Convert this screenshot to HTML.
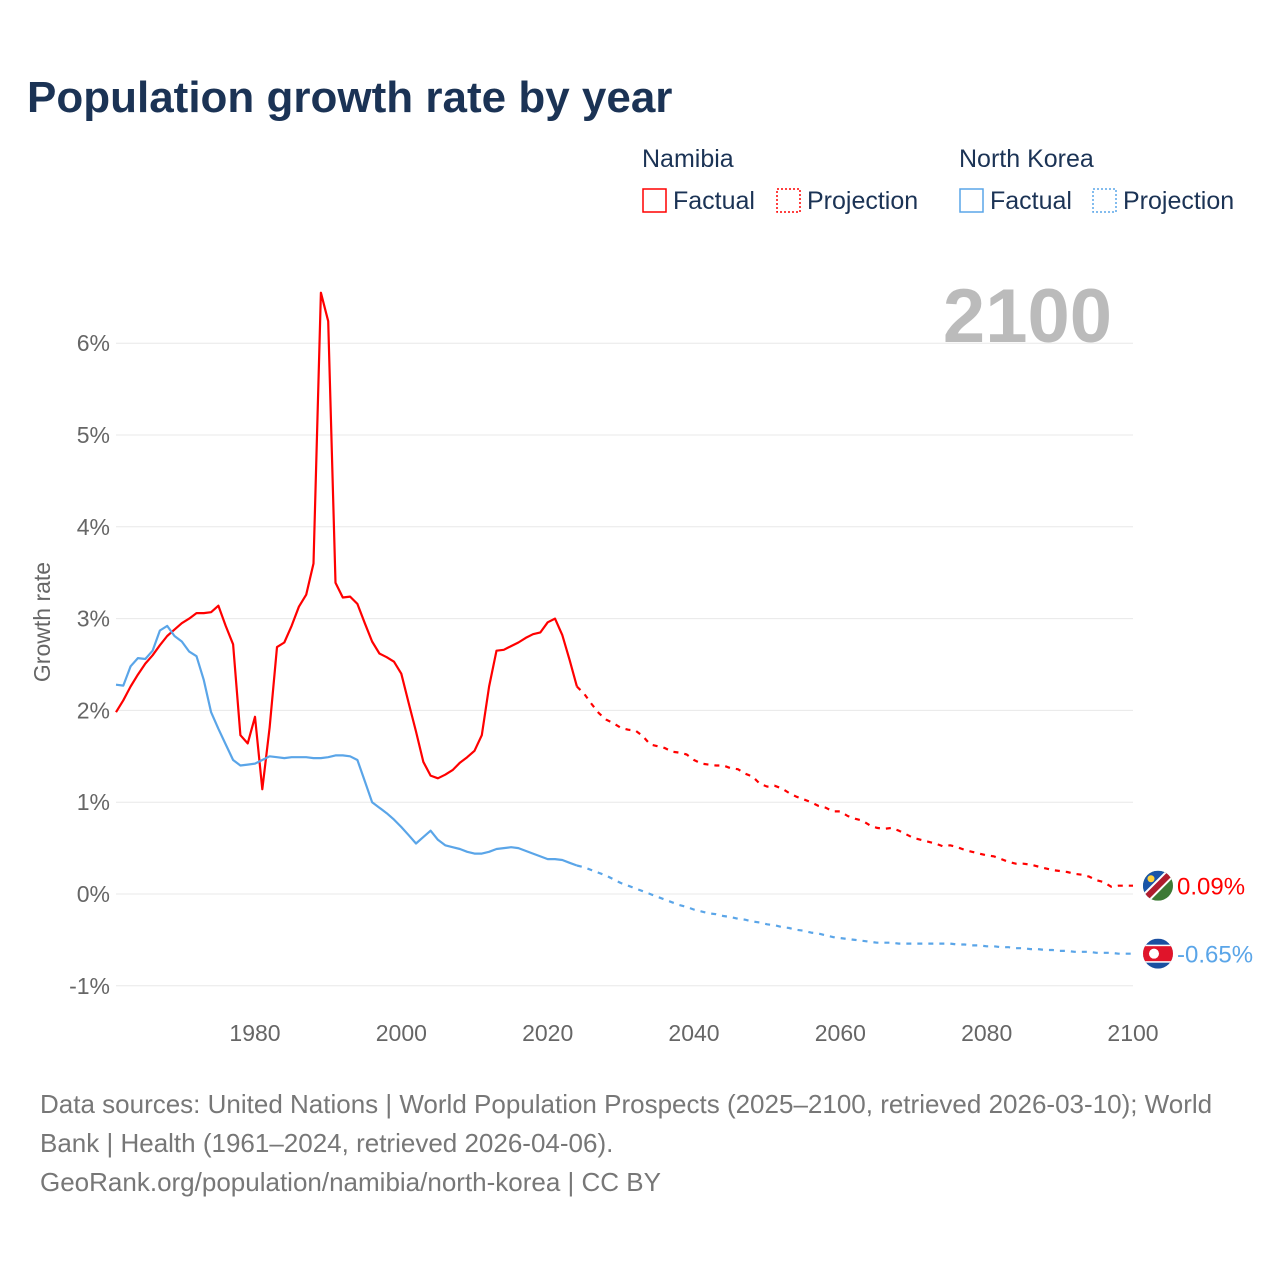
<!DOCTYPE html>
<html><head><meta charset="utf-8">
<style>
body{margin:0;background:#fff;font-family:"Liberation Sans",sans-serif;}
#wrap{position:relative;width:1280px;height:1280px;overflow:hidden;}
</style></head>
<body>
<div id="wrap">
<svg id="chart" width="1280" height="1280" xmlns="http://www.w3.org/2000/svg">
<text x="27" y="112" font-size="44" font-weight="bold" fill="#1b3355" font-family="Liberation Sans, sans-serif">Population growth rate by year</text>
<g font-size="25" fill="#1b3355">
<text x="642" y="167">Namibia</text>
<rect x="643" y="189" width="23" height="23" fill="none" stroke="#ff0000" stroke-width="1.5"/>
<text x="673" y="209">Factual</text>
<rect x="777" y="189" width="23" height="23" fill="none" stroke="#ff0000" stroke-width="1.5" stroke-dasharray="2,2"/>
<text x="807" y="209">Projection</text>
<text x="959" y="167">North Korea</text>
<rect x="960" y="189" width="23" height="23" fill="none" stroke="#5aa5e8" stroke-width="1.5"/>
<text x="990" y="209">Factual</text>
<rect x="1093" y="189" width="23" height="23" fill="none" stroke="#5aa5e8" stroke-width="1.5" stroke-dasharray="2,2"/>
<text x="1123" y="209">Projection</text>
</g>
<text x="1112" y="342" font-size="76" font-weight="bold" fill="#bbbbbb" text-anchor="end">2100</text>
<text transform="translate(50,622) rotate(-90)" font-size="23" fill="#666" text-anchor="middle">Growth rate</text>
<g id="grid"></g><g id="series"></g>
<g font-size="26" fill="#777">
<text x="40" y="1113">Data sources: United Nations | World Population Prospects (2025–2100, retrieved 2026-03-10); World</text>
<text x="40" y="1152">Bank | Health (1961–2024, retrieved 2026-04-06).</text>
<text x="40" y="1191">GeoRank.org/population/namibia/north-korea | CC BY</text>
</g>
</svg>
</div>
<script>
const yTicks=[-1,0,1,2,3,4,5,6];
const yTickLabels=["-1%","0%","1%","2%","3%","4%","5%","6%"];
const xTicks=[1980,2000,2020,2040,2060,2080,2100];
const namFactYears=[1961,2024];
const namFact=[1.98,2.11,2.26,2.39,2.51,2.6,2.71,2.81,2.88,2.95,3.0,3.06,3.06,3.07,3.14,2.92,2.72,1.73,1.64,1.93,1.14,1.81,2.69,2.74,2.92,3.13,3.26,3.6,6.55,6.24,3.39,3.23,3.24,3.16,2.95,2.75,2.62,2.58,2.53,2.4,2.08,1.77,1.44,1.29,1.26,1.3,1.35,1.43,1.49,1.56,1.73,2.26,2.65,2.66,2.7,2.74,2.79,2.83,2.85,2.96,3.0,2.82,2.55,2.26];
const namProj=[2.18,2.07,1.97,1.9,1.86,1.81,1.79,1.78,1.72,1.63,1.61,1.59,1.55,1.54,1.52,1.46,1.42,1.41,1.4,1.4,1.37,1.36,1.31,1.28,1.2,1.17,1.18,1.15,1.1,1.06,1.03,1.0,0.96,0.94,0.9,0.9,0.85,0.82,0.8,0.75,0.72,0.71,0.72,0.69,0.65,0.61,0.59,0.57,0.55,0.52,0.53,0.51,0.48,0.46,0.44,0.42,0.41,0.38,0.35,0.33,0.33,0.32,0.3,0.28,0.26,0.25,0.24,0.22,0.21,0.19,0.15,0.13,0.08,0.09,0.09,0.09];
const nkFact=[2.28,2.27,2.48,2.57,2.56,2.65,2.87,2.92,2.81,2.75,2.64,2.59,2.33,1.98,1.8,1.63,1.46,1.4,1.41,1.42,1.46,1.5,1.49,1.48,1.49,1.49,1.49,1.48,1.48,1.49,1.51,1.51,1.5,1.46,1.23,1.0,0.94,0.88,0.81,0.73,0.64,0.55,0.62,0.69,0.59,0.53,0.51,0.49,0.46,0.44,0.44,0.46,0.49,0.5,0.51,0.5,0.47,0.44,0.41,0.38,0.38,0.37,0.34,0.31];
const nkProj=[0.29,0.26,0.23,0.2,0.16,0.12,0.09,0.06,0.03,0.0,-0.03,-0.06,-0.09,-0.12,-0.14,-0.17,-0.19,-0.21,-0.22,-0.24,-0.25,-0.27,-0.28,-0.3,-0.31,-0.33,-0.34,-0.36,-0.37,-0.39,-0.4,-0.42,-0.43,-0.45,-0.47,-0.48,-0.49,-0.5,-0.51,-0.52,-0.53,-0.53,-0.53,-0.54,-0.54,-0.54,-0.54,-0.54,-0.54,-0.54,-0.54,-0.55,-0.55,-0.56,-0.56,-0.57,-0.57,-0.58,-0.58,-0.59,-0.59,-0.6,-0.6,-0.61,-0.61,-0.62,-0.62,-0.63,-0.63,-0.63,-0.64,-0.64,-0.64,-0.65,-0.65,-0.65];
const NS="http://www.w3.org/2000/svg";
const xS=y=>116+(y-1961)*(1133-116)/(2100-1961);
const yS=v=>894-v*91.8;
function mk(t,a,p){const e=document.createElementNS(NS,t);for(const k in a)e.setAttribute(k,a[k]);p.appendChild(e);return e;}
const grid=document.getElementById('grid'),ser=document.getElementById('series');
yTicks.forEach((t,i)=>{
 const l=mk('line',{x1:116,x2:1133,y1:yS(t),y2:yS(t),stroke:'#e8e8e8','stroke-width':1},grid);
 
 
 const tx=mk('text',{x:110,y:yS(t)+8,'font-size':23,fill:'#666','text-anchor':'end'},grid);
 tx.textContent=yTickLabels[i];
 
 
});
xTicks.forEach(t=>{
 const tx=mk('text',{x:xS(t),y:1041,'font-size':23,fill:'#666','text-anchor':'middle'},grid);
 tx.textContent=t;
 
 
});
function line(vals,start,color,dash,name){
 const d=vals.map((v,i)=>(i?'L':'M')+xS(start+i).toFixed(1)+','+yS(v).toFixed(1)).join('');
 const p=mk('path',{d:d,fill:'none',stroke:color,'stroke-width':2.2,'stroke-linejoin':'round'},ser);
 if(dash)p.setAttribute('stroke-dasharray','5,6');
 
 
}
const s0=namFactYears[0];
line(namFact,s0,'#ff0000',false,'namibia-factual-line');
line([namFact[namFact.length-1]].concat(namProj),s0+namFact.length-1,'#ff0000',true,'namibia-projection-line');
line(nkFact,s0,'#5aa5e8',false,'north-korea-factual-line');
line([nkFact[nkFact.length-1]].concat(nkProj),s0+nkFact.length-1,'#5aa5e8',true,'north-korea-projection-line');
const nl=namProj[namProj.length-1],kl=nkProj[nkProj.length-1];
const fx=1158;
const g1=mk('g',{},ser);


const cp=mk('clipPath',{id:'c1'},g1);mk('circle',{cx:fx,cy:yS(nl),r:15},cp);
const gg=mk('g',{'clip-path':'url(#c1)'},g1);
mk('rect',{x:fx-15,y:yS(nl)-15,width:30,height:30,fill:'#3d7a35'},gg);
mk('polygon',{points:`${fx-15},${yS(nl)-15} ${fx+15},${yS(nl)-15} ${fx-15},${yS(nl)+15}`,fill:'#1a55a8'},gg);
mk('line',{x1:fx-16,y1:yS(nl)+16,x2:fx+16,y2:yS(nl)-16,stroke:'#fff','stroke-width':10},gg);
mk('line',{x1:fx-16,y1:yS(nl)+16,x2:fx+16,y2:yS(nl)-16,stroke:'#b01c2e','stroke-width':6},gg);
mk('circle',{cx:fx-7,cy:yS(nl)-7,r:3.5,fill:'#ffd23a'},gg);
const t1=mk('text',{x:1177,y:yS(nl)+9,'font-size':24,fill:'#ff0000'},ser);
t1.textContent=nl.toFixed(2)+'%';


const g2=mk('g',{},ser);


const cp2=mk('clipPath',{id:'c2'},g2);mk('circle',{cx:fx,cy:yS(kl),r:15},cp2);
const gk=mk('g',{'clip-path':'url(#c2)'},g2);
mk('rect',{x:fx-15,y:yS(kl)-15,width:30,height:30,fill:'#1a4fa0'},gk);
mk('rect',{x:fx-15,y:yS(kl)-9,width:30,height:18,fill:'#fff'},gk);
mk('rect',{x:fx-15,y:yS(kl)-7.5,width:30,height:15,fill:'#e0142a'},gk);
mk('circle',{cx:fx-4,cy:yS(kl),r:5,fill:'#fff'},gk);
const t2=mk('text',{x:1177,y:yS(kl)+9,'font-size':24,fill:'#5aa5e8'},ser);
t2.textContent=kl.toFixed(2)+'%';


</script>
</body></html>
